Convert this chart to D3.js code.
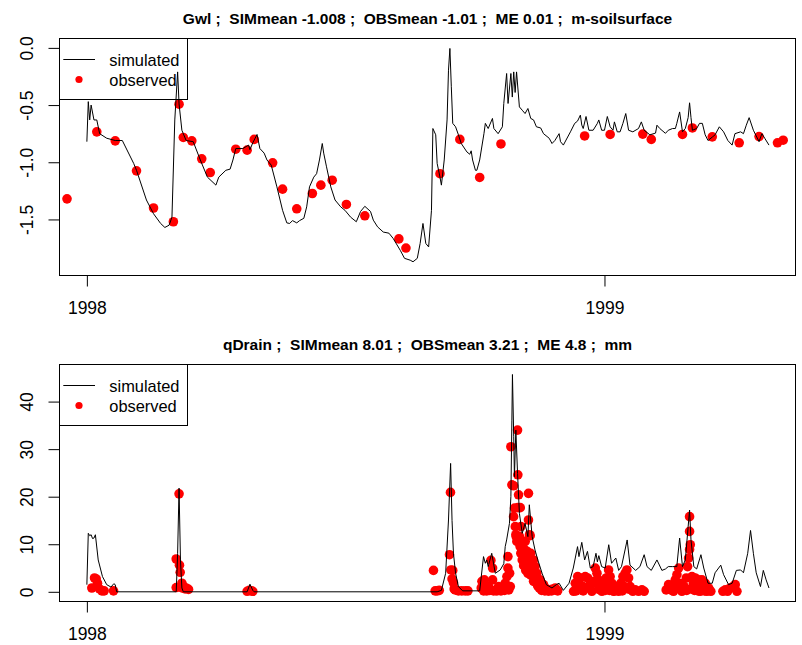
<!DOCTYPE html>
<html><head><meta charset="utf-8">
<script src="https://cdn.jsdelivr.net/npm/d3@7"></script>
<style>
body{margin:0;background:#fff}
svg{display:block}
text{font-family:"Liberation Sans",Arial,Helvetica,sans-serif;white-space:pre}
</style>
</head><body>
<svg id="chart" width="802" height="645"></svg>
<script>
// ---------------- DATA (day offsets from 1998-01-01) ----------------
const gwlSimDay = [0,1,2,3,5,7,9,14,20,25,33,35,42,47,52,55,58,60,62,64,65,67,70,75,80,85,91,93,98,101,103,105,110,114,115,117,120,122,125,127,130,134,138,141,143,145,148,150,153,155,157,160,162,164,166,167,169,172,175,179,182,186,190,193,196,200,202,205,209,213,216,221,224,228,230,233,235,237,239,241,243,244,246,247,249,250,252,254,255,256,257,258,260,262,264,268,270,271,272,274,275,277,280,281,283,286,287,290,293,294,296,297,299,300,301,302,303,305,307,309,311,313,315,317,320,322,326,328,330,333,334,336,341,344,346,348,349,350,352,354,357,360,361,363,365,367,369,371,372,374,376,378,380,382,385,389,391,393,397,401,402,404,408,410,413,415,416,418,420,422,424,425,426,427,430,432,434,436,438,441,443,446,449,452,455,457,461,463,465,467,470,474,476,478,481];
const gwlSimVal = [-0.82,-0.47,-0.63,-0.50,-0.63,-0.63,-0.75,-0.79,-0.81,-0.81,-1.01,-1.07,-1.33,-1.45,-1.535,-1.57,-1.55,-1.48,-0.63,-0.21,-0.49,-0.72,-0.81,-0.82,-0.98,-1.13,-1.20,-1.13,-1.07,-1.06,-0.98,-0.88,-0.88,-0.85,-0.89,-0.83,-0.757,-0.88,-0.92,-0.98,-1.025,-1.215,-1.42,-1.53,-1.535,-1.51,-1.53,-1.51,-1.49,-1.39,-1.215,-1.13,-1.10,-0.98,-0.836,-0.92,-1.04,-1.215,-1.33,-1.39,-1.42,-1.48,-1.52,-1.43,-1.385,-1.43,-1.506,-1.565,-1.61,-1.62,-1.666,-1.77,-1.84,-1.856,-1.87,-1.84,-1.71,-1.535,-1.71,-1.74,-1.42,-0.705,-0.76,-1.01,-1.13,-1.20,-0.98,-0.63,-0.195,-0.005,-0.34,-0.66,-0.69,-0.76,-0.836,-0.91,-0.93,-0.90,-0.98,-1.07,-1.07,-0.98,-0.75,-0.66,-0.705,-0.617,-0.705,-0.75,-0.69,-0.486,-0.224,-0.486,-0.224,-0.43,-0.21,-0.39,-0.21,-0.516,-0.545,-0.574,-0.53,-0.617,-0.63,-0.69,-0.70,-0.75,-0.79,-0.836,-0.81,-0.75,-0.82,-0.85,-0.734,-0.66,-0.64,-0.588,-0.675,-0.705,-0.60,-0.72,-0.72,-0.66,-0.63,-0.72,-0.72,-0.60,-0.69,-0.72,-0.647,-0.734,-0.734,-0.66,-0.574,-0.72,-0.734,-0.705,-0.647,-0.72,-0.76,-0.745,-0.676,-0.705,-0.747,-0.72,-0.705,-0.705,-0.66,-0.56,-0.734,-0.705,-0.61,-0.48,-0.61,-0.72,-0.705,-0.66,-0.66,-0.76,-0.81,-0.78,-0.76,-0.69,-0.734,-0.81,-0.85,-0.75,-0.734,-0.75,-0.676,-0.61,-0.72,-0.82,-0.75,-0.79,-0.85];

const gwlObsDay = [-14,7,20,35,47,61,65,68,74,81,87,105,113,118,131,138,148,159,165,173,183,196,220,225,249,263,277,292,351,369,392,398,420,427,441,460,474,487,491];
const gwlObsVal = [-1.32,-0.734,-0.813,-1.075,-1.40,-1.52,-0.492,-0.783,-0.813,-0.97,-1.09,-0.886,-0.894,-0.80,-1.005,-1.235,-1.407,-1.273,-1.20,-1.157,-1.369,-1.468,-1.67,-1.75,-1.10,-0.80,-1.133,-0.84,-0.77,-0.757,-0.754,-0.80,-0.757,-0.70,-0.778,-0.83,-0.775,-0.83,-0.807];

const drainSimDay = [0,1,2,3,4,5,6,8,11,14,17,19,20,21,63,64,65,66,67,68,113,115,117,118,247,250,253,255,256.5,257.5,258.5,260,262,265,277,279.7,281,282,283,285.5,288,291.5,294,295,296,298,299,299.7,300.1,301,301.5,302.5,303.7,305,307,309,311,312,314,316,318,321,324,328,331,333,336,340,343,346,347,349,351,353,355,357,359,360,361,363,365.5,368,370,373,375,377,381,383,387,390,393,395,398,402,405.5,408,410,413,416,418,420,422,424,425,426,428,430,433,435,438,441,443,447,449,452.5,455,458,461,463,466,468,470,472,475,477,479,481];
const drainSimVal = [1.5,12.3,11.8,12.0,11.2,11.3,12.0,6.7,3.2,1.5,1.0,1.7,1.5,0,0,8.1,21.8,6.7,0.8,0,0,1.6,0.3,0,0,0.3,3.9,15.1,27.0,15.0,8.1,3.9,1.1,0.2,0.2,7.4,6.0,6.7,5.3,8.1,3.9,4.6,5.9,9.5,10.9,14.4,20.0,36.1,45.7,32.6,24.2,34.0,24.9,16.5,12.3,14.4,11.6,18.3,11.6,8.8,6.7,3.9,1.5,0.8,1.5,1.8,0.3,1.8,5.0,9.5,7.4,10.4,6.7,8.5,5.0,5.3,8.1,6.3,7.6,5.3,5.0,9.9,6.0,7.1,4.5,5.3,10.9,5.6,4.5,5.3,7.8,5.3,4.5,6.7,4.5,4.8,5.3,5.3,5.3,11.3,5.3,6.7,13.7,17.2,10.9,5.3,4.8,7.8,5.0,1.8,1.8,4.0,5.6,3.6,1.5,1.8,4.5,4.6,4.0,8.1,12.9,8.1,4.0,1.1,4.5,2.5,0.8];

const drainObsDay = [3.5,5.4,6.6,7.5,8.9,10.6,12.2,18.8,
 63,63,65,65.3,65.8,66,67,67.5,68,69.3,70,71.7,
 113,114.5,116,117,
 244.4,245.6,247,248.5,255.7,256.4,256.7,257.5,258,258.5,259,259.7,262,264.4,266.8,268.7,
 278.1,278.6,279.8,280.3,281,282,283.3,284,284.9,286.1,286.1,286.8,288,289.1,290.3,292,292.5,293.8,294.5,295,296.2,296.9,296.9,297.5,298.1,298.6,299,299.7,300.9,300.9,301.6,302.1,302.5,302.8,303.2,303.7,303.9,303.9,304.4,305.1,305.5,305.6,306,306.1,306.8,307,307.4,308,308.2,309,309.1,309.5,310,310.5,310.7,311,311.4,311.4,312.1,312.6,312.1,313,313,313.7,314.9,314.9,315,316.1,316.1,316.8,317.3,317.7,318,319.1,319.6,320.7,322,323,324.3,325.4,327.7,327.9,330,330.2,
 319.7,320.9,323.2,325.6,328,330.3,332,
 343.2,344.4,345,346.1,347,348,349.8,350,351.4,352,353.1,354.5,355,356.1,357.3,358,358.5,359.7,360.8,361,362,363.2,364.8,365.5,366.2,367,367.9,368.5,369,370.2,371.4,372,373.3,374.9,375.5,376.6,377.5,378,379,379.6,380.8,381.5,382,383.1,384,385,386.7,389,391.4,393,
 408.5,410.2,411.8,412.5,413.7,414.9,415.5,416.1,417.3,418,419.6,420.5,421.3,422.7,423,423.6,424.3,425,425.5,425,425,426,426.7,427.8,428.5,429,430.2,431,431.4,432.5,433.7,434.9,435.5,436,437.2,438.4,439,440,
 448.5,450.2,451.8,453.7,455.6,457.2,458.4];
const drainObsVal = [0.8,2.9,2.7,1.8,0.6,0.2,0.2,0.2,
 6.9,0.9,20.6,5.6,4.1,1.0,1.8,0.8,1.2,0.6,0.8,0.5,
 0.1,0.3,0.2,0.1,
 4.5,0.2,0.2,0.3,7.8,20.9,4.6,2.7,4.5,1.9,0.6,0.4,0.2,0.2,0.2,0.2,
 0.8,2.2,0.2,2.5,1.1,0.2,1.1,0.3,6.6,5.0,2.5,0.2,0.3,0.2,1.1,0.2,0.5,1.1,0.3,1.8,3.2,5.0,7.4,0.4,3.9,1.1,30.5,22.5,22.3,15.8,17.6,13.7,12.0,11.6,10.6,34.0,24.6,17.7,20.4,11.6,9.5,17.7,8.1,13.7,8.7,6.7,8.8,5.5,9.0,8.1,10.6,4.5,7.2,8.5,6.7,3.9,20.7,15.1,12.0,11.8,5.3,8.1,3.5,6.3,5.0,6.7,2.2,3.9,5.3,2.5,3.9,1.5,1.2,0.8,2.5,0.3,1.5,0.2,0.6,0.2,0.2,0.4,0.5,0.6,
 1.8,0.8,0.4,0.2,0.5,0.8,0.2,
 0.1,1.8,0.2,3.2,1.1,2.9,1.1,0.2,3.2,0.8,2.9,1.1,2.2,0.1,1.8,2.2,5.0,3.9,2.5,0.5,1.1,0.1,1.8,0.3,2.9,1.5,4.6,0.3,3.2,1.8,0.1,0.2,1.1,0.1,1.1,1.8,0.2,3.2,1.1,3.9,4.6,0.6,2.9,1.1,0.4,0.1,0.4,0.1,0.4,0.1,
 0.4,1.5,1.1,0.3,0.1,2.5,0.8,3.6,5.0,1.8,0.1,0.5,1.1,2.9,0.3,5.3,7.1,8.9,9.9,12.7,15.8,0.6,3.2,1.8,0.3,2.9,1.1,0.2,2.5,0.1,2.5,1.1,0.2,1.8,0.1,0.8,0.4,0.1,
 0.1,0.4,0.1,0.8,1.1,1.5,0.1];

const gwlTickVals = [0, -0.5, -1.0, -1.5];
const gwlTickLabels = ["0.0", "-0.5", "-1.0", "-1.5"];
const drainTickVals = [0, 10, 20, 30, 40];
const drainTickLabels = ["0", "10", "20", "30", "40"];
const yearTicks = ["1998-01-01", "1999-01-01"];
const yearLabels = ["1998", "1999"];
const titles = [
  "Gwl ;  SIMmean -1.008 ;  OBSmean -1.01 ;  ME 0.01 ;  m-soilsurface",
  "qDrain ;  SIMmean 8.01 ;  OBSmean 3.21 ;  ME 4.8 ;  mm"
];
const legendLabels = ["simulated", "observed"];

// ---------------- DRAWING ----------------
const BASE = Date.UTC(1998, 0, 1);
const toDate = d => new Date(BASE + d * 864e5);
const svg = d3.select("#chart");

const panels = [
  {title: titles[0], simDay: gwlSimDay, simVal: gwlSimVal, obsDay: gwlObsDay, obsVal: gwlObsVal,
   yDomain: [-1.990, 0.082], tickVals: gwlTickVals, tickLabels: gwlTickLabels, dy: 0},
  {title: titles[1], simDay: drainSimDay, simVal: drainSimVal, obsDay: drainObsDay, obsVal: drainObsVal,
   yDomain: [-2.04, 47.8], tickVals: drainTickVals, tickLabels: drainTickLabels, dy: 326}
];

const L = 59.5, R = 795.5, T = 38.5, B = 275.5;
const x = d3.scaleUtc().domain([toDate(-19.3), toDate(499.7)]).range([L, R]);

panels.forEach(p => {
  const g = svg.append("g").attr("transform", `translate(0,${p.dy})`);
  const y = d3.scaleLinear().domain(p.yDomain).range([B, T]);

  // title
  g.append("text").attr("x", (L + R) / 2).attr("y", 24)
    .attr("text-anchor", "middle").attr("font-weight", "bold").attr("font-size", "15.5px")
    .text(p.title);

  // observed points
  const obs = p.obsDay.map((d, i) => ({d: toDate(d), v: p.obsVal[i]}));
  g.append("g").selectAll("circle").data(obs).join("circle")
    .attr("cx", o => x(o.d)).attr("cy", o => y(o.v)).attr("r", 4.8).attr("fill", "#ff0000");

  // simulated line
  const sim = p.simDay.map((d, i) => ({d: toDate(d), v: p.simVal[i]}));
  g.append("path").datum(sim)
    .attr("d", d3.line().x(o => x(o.d)).y(o => y(o.v)))
    .attr("fill", "none").attr("stroke", "#000").attr("stroke-width", 1);

  // box
  g.append("rect").attr("x", L).attr("y", T).attr("width", R - L).attr("height", B - T)
    .attr("fill", "none").attr("stroke", "#000").attr("stroke-width", 1);

  // x axis
  const xa = d3.axisBottom(x)
    .tickValues(yearTicks.map(s => d3.utcParse("%Y-%m-%d")(s)))
    .tickFormat((d, i) => yearLabels[i]).tickSize(11).tickSizeOuter(0).tickPadding(15);
  const gx = g.append("g").attr("transform", `translate(0,${B})`).call(xa);
  gx.select(".domain").remove();
  gx.selectAll("text").attr("font-size", "17.5px").attr("fill", "#000")
    .style("font-family", '"Liberation Sans",Arial,sans-serif');
  gx.selectAll("line").attr("stroke", "#000");

  // y axis
  const ya = d3.axisLeft(y).tickValues(p.tickVals).tickFormat((d, i) => p.tickLabels[i])
    .tickSize(11).tickSizeOuter(0);
  const gy = g.append("g").attr("transform", `translate(${L},0)`).call(ya);
  gy.select(".domain").remove();
  gy.selectAll("line").attr("stroke", "#000");
  gy.selectAll("text")
    .attr("x", null).attr("dy", null).attr("text-anchor", "middle")
    .attr("font-size", "17.5px").attr("fill", "#000")
    .style("font-family", '"Liberation Sans",Arial,sans-serif')
    .attr("transform", d => `translate(${33 - L},${0}) rotate(-90)`);

  // legend
  const lg = g.append("g");
  lg.append("rect").attr("x", L).attr("y", T).attr("width", 128).attr("height", 61)
    .attr("fill", "none").attr("stroke", "#000");
  lg.append("line").attr("x1", 63.3).attr("x2", 95).attr("y1", 59.5).attr("y2", 59.5)
    .attr("stroke", "#000");
  lg.append("circle").attr("cx", 79).attr("cy", 79.5).attr("r", 3.6).attr("fill", "#ff0000");
  lg.selectAll("text.lab").data(legendLabels).join("text").attr("class", "lab")
    .attr("x", 109.3).attr("y", (d, i) => 66 + i * 20).attr("font-size", "16.4px")
    .text(d => d);
});
</script>
</body></html>
